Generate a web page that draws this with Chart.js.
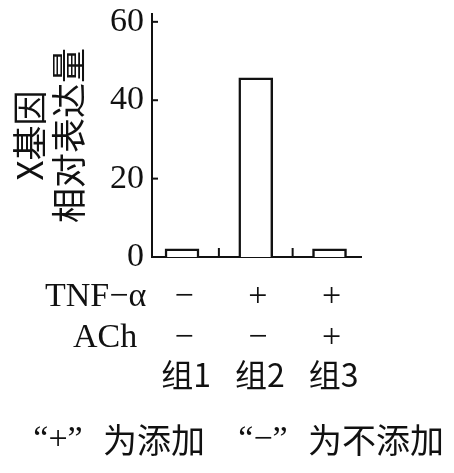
<!DOCTYPE html>
<html>
<head>
<meta charset="utf-8">
<script src="https://cdn.jsdelivr.net/npm/chart.js@4"></script>
<style>
  html, body { margin: 0; padding: 0; background: #fff; }
  #wrap { width: 454px; height: 473px; }
</style>
</head>
<body>
<div id="wrap"><canvas id="geneChart"></canvas></div>
<script>
// data
const groups = ['组1', '组2', '组3'];
const values = [2.1, 45.7, 2.1];
const tnfRow = ['−', '+', '+'];
const achRow = ['−', '−', '+'];
const rowNames = ['TNF−α', 'ACh'];
const yTicks = [0, 20, 40, 60];
const dividers = [1.5, 2.5];
const noteParts = ['“+”', '为添加', '“−”', '为不添加'];

const INK = '#111';
const SERIF = '"Liberation Serif", "DejaVu Serif", serif';
const CJK = '"Noto Sans CJK SC", sans-serif';

// tick marks inside the axes, the +/- table and the footnote
const tablePlugin = {
  id: 'tablePlugin',
  afterDraw(chart) {
    const { ctx, chartArea, scales: { x, y } } = chart;
    ctx.save();
    ctx.strokeStyle = INK;
    ctx.lineWidth = 2;
    yTicks.forEach(v => {
      if (v === 0) return;
      const py = y.getPixelForValue(v);
      ctx.beginPath();
      ctx.moveTo(chartArea.left, py);
      ctx.lineTo(chartArea.left + 6, py);
      ctx.stroke();
    });
    dividers.forEach(v => {
      const px = x.getPixelForValue(v);
      ctx.beginPath();
      ctx.moveTo(px, chartArea.bottom);
      ctx.lineTo(px, chartArea.bottom - 9);
      ctx.stroke();
    });

    ctx.fillStyle = INK;
    ctx.textBaseline = 'middle';
    ctx.font = '34px ' + SERIF;
    ctx.textAlign = 'left';
    ctx.fillText(rowNames[0], 45, 297);
    ctx.fillText(rowNames[1], 73, 338);
    ctx.textAlign = 'center';
    groups.forEach((g, i) => {
      const px = x.getPixelForValue(i + 1);
      ctx.font = '34px ' + SERIF;
      ctx.fillText(tnfRow[i], px + 2, 297);
      ctx.fillText(achRow[i], px + 2, 338);
      ctx.font = '32px ' + CJK;
      ctx.fillText(g, px + 4, 375);
    });

    // footnote
    ctx.font = '34px ' + SERIF + ', ' + CJK;
    ctx.textAlign = 'center';
    ctx.fillText(noteParts[0], 58, 440);
    ctx.fillText(noteParts[2], 263, 440);
    ctx.font = '34px ' + CJK;
    ctx.textAlign = 'left';
    ctx.fillText(noteParts[1], 103, 440);
    ctx.fillText(noteParts[3], 308, 440);
    ctx.restore();
  }
};

const ctx = document.getElementById('geneChart').getContext('2d');
new Chart(ctx, {
  type: 'bar',
  data: {
    datasets: [{
      data: values.map((v, i) => ({ x: i + 1, y: v })),
      backgroundColor: '#fff',
      borderColor: INK,
      borderWidth: 2.5,
      borderSkipped: 'bottom',
      barThickness: 34
    }]
  },
  options: {
    responsive: true,
    maintainAspectRatio: false,
    animation: false,
    layout: { padding: { top: 14, right: 93, bottom: 216, left: 0 } },
    plugins: { legend: { display: false }, tooltip: { enabled: false } },
    scales: {
      x: {
        type: 'linear',
        offset: false,
        min: 0.593,
        max: 3.427,
        grid: { display: false, drawTicks: false, offset: false },
        border: { color: INK, width: 2 },
        ticks: { display: false },
        afterFit: s => { s.height = 0; s.paddingLeft = 0; s.paddingRight = 0; }
      },
      y: {
        min: 0,
        max: 62,
        afterBuildTicks: s => { s.ticks = yTicks.map(v => ({ value: v })); },
        grid: { display: false, drawTicks: false },
        border: { color: INK, width: 2 },
        ticks: { color: INK, padding: 8, font: { family: SERIF, size: 34 } },
        title: {
          display: true,
          text: ['X基因', '相对表达量'],
          color: INK,
          font: { family: CJK, size: 35, lineHeight: 1.11 },
          padding: { top: 10, bottom: 0 }
        },
        afterFit: s => { s.width = 152; s.paddingTop = 0; s.paddingBottom = 0; }
      }
    }
  },
  plugins: [tablePlugin]
});
</script>
</body>
</html>
